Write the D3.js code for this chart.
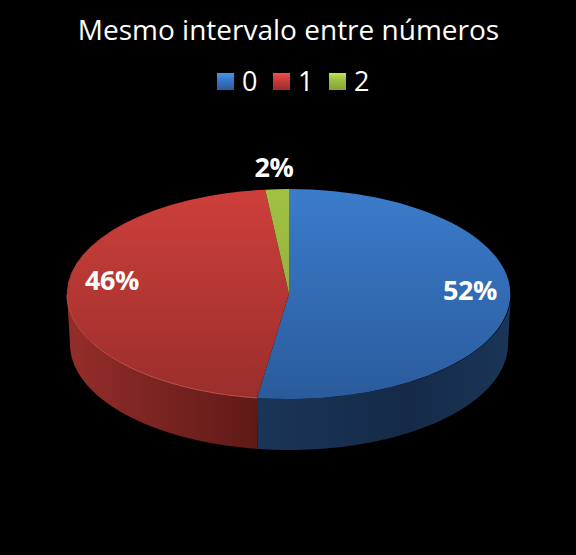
<!DOCTYPE html>
<html>
<head>
<meta charset="utf-8">
<title>Mesmo intervalo entre números</title>
<script src="https://cdn.jsdelivr.net/npm/d3@7"></script>
<style>
    html, body { margin: 0; padding: 0; background: #000; }
    svg { display: block; }
    text { font-family: "Open Sans", "Noto Sans", sans-serif; fill: #fff; }
</style>
</head>
<body>
<svg></svg>
<script>
// values
var categories = ["0", "1", "2"];
var shares = [52.3, 46, 1.7];
var chartTitle = "Mesmo intervalo entre números";

var w = 576, h = 555;
var cx = 289, cy = 294, rx = 222, ry = 105, depth = 50;

var colors = [
    { top: "#3b7ccb", bottom: "#2a5b9c" },
    { top: "#ce3f3b", bottom: "#9a2e2b" },
    { top: "#a2c244", bottom: "#84a338" }
];
var labelPos = [[470, 291], [112, 281], [274, 168]];

var svg = d3.select("svg").attr("width", w).attr("height", h);
var defs = svg.append("defs");

colors.forEach(function(c, i) {
    // the top face sits in a unit circle, so the gradient is in unit coordinates
    var g = defs.append("linearGradient").attr("id", "top" + i)
        .attr("gradientUnits", "userSpaceOnUse")
        .attr("x1", 0).attr("x2", 0).attr("y1", -1).attr("y2", 1);
    g.append("stop").attr("offset", "0%").attr("stop-color", c.top);
    g.append("stop").attr("offset", "100%").attr("stop-color", c.bottom);

    var s = defs.append("linearGradient").attr("id", "swatch" + i)
        .attr("x1", 0).attr("x2", 0).attr("y1", 0).attr("y2", 1);
    s.append("stop").attr("offset", "0%").attr("stop-color", d3.color(c.top).brighter(0.5));
    s.append("stop").attr("offset", "35%").attr("stop-color", c.top);
    s.append("stop").attr("offset", "100%").attr("stop-color", c.bottom);
});

// wall shading runs across the whole pie width
var wallGrad = [
    defs.append("linearGradient").attr("id", "wall0").attr("gradientUnits", "userSpaceOnUse")
        .attr("x1", cx - 32).attr("x2", cx + rx).attr("y1", 0).attr("y2", 0),
    defs.append("linearGradient").attr("id", "wall1").attr("gradientUnits", "userSpaceOnUse")
        .attr("x1", cx - rx).attr("x2", cx - 32).attr("y1", 0).attr("y2", 0)
];
wallGrad[0].append("stop").attr("offset", "0%").attr("stop-color", "#1a3558");
wallGrad[0].append("stop").attr("offset", "60%").attr("stop-color", "#152a48");
wallGrad[0].append("stop").attr("offset", "100%").attr("stop-color", "#1a3558");
wallGrad[1].append("stop").attr("offset", "0%").attr("stop-color", "#942d2a");
wallGrad[1].append("stop").attr("offset", "100%").attr("stop-color", "#5f1a17");

var pie = d3.pie().sort(null)(shares);
var arc = d3.arc().innerRadius(0).outerRadius(1);

// side walls, only the part of each slice on the front half; the base is a bit narrower
var wallArea = d3.area()
    .x0(function(a) { return cx + rx * Math.sin(a); })
    .x1(function(a) { return cx + (rx - 3) * Math.sin(a); })
    .y0(function(a) { return cy - ry * Math.cos(a); })
    .y1(function(a) { return cy - (ry + 1) * Math.cos(a) + depth; });

pie.forEach(function(d, i) {
    var a0 = Math.max(d.startAngle, Math.PI / 2);
    var a1 = Math.min(d.endAngle, Math.PI * 1.5);
    if (a1 <= a0) return;
    var angles = d3.range(a0, a1, 0.01).concat([a1]);
    svg.append("path")
        .attr("d", wallArea(angles))
        .attr("fill", "url(#wall" + i + ")");
});

// top face
svg.append("g")
    .attr("transform", "translate(" + cx + "," + cy + ") scale(" + rx + "," + ry + ")")
    .selectAll("path")
    .data(pie)
    .enter()
    .append("path")
    .attr("d", arc)
    .attr("fill", function(d, i) { return "url(#top" + i + ")"; });

// pale rim along the front of the red slice
var rim = d3.line()
    .x(function(a) { return cx + rx * Math.sin(a); })
    .y(function(a) { return cy - ry * Math.cos(a); });
svg.append("path")
    .attr("d", rim(d3.range(pie[1].startAngle, Math.PI * 1.5, 0.01)))
    .attr("fill", "none")
    .attr("stroke", "#c9544f")
    .attr("stroke-width", 1);

// percentage labels
var pct = d3.format(".0%");
var total = d3.sum(shares);
svg.selectAll("text.pct")
    .data(shares)
    .enter()
    .append("text")
    .attr("class", "pct")
    .attr("x", function(d, i) { return labelPos[i][0]; })
    .attr("y", function(d, i) { return labelPos[i][1]; })
    .attr("dy", "0.35em")
    .attr("text-anchor", "middle")
    .attr("font-size", 27)
    .attr("font-weight", "bold")
    .style("letter-spacing", "-0.4px")
    .text(function(d) { return pct(d / total); });

// title
svg.append("text")
    .attr("x", 288.5)
    .attr("y", 40)
    .attr("text-anchor", "middle")
    .attr("font-size", 28)
    .text(chartTitle);

// legend
var legendX = d3.scalePoint().domain(categories).range([217, 329]);
var legend = svg.selectAll("g.legend")
    .data(categories)
    .enter()
    .append("g")
    .attr("class", "legend")
    .attr("transform", function(d) { return "translate(" + legendX(d) + ",73)"; });
legend.append("rect")
    .attr("width", 17).attr("height", 17)
    .attr("fill", function(d, i) { return "url(#swatch" + i + ")"; });
legend.append("text")
    .attr("x", 25)
    .attr("y", 17.5)
    .attr("font-size", 27)
    .text(function(d) { return d; });
</script>
</body>
</html>
